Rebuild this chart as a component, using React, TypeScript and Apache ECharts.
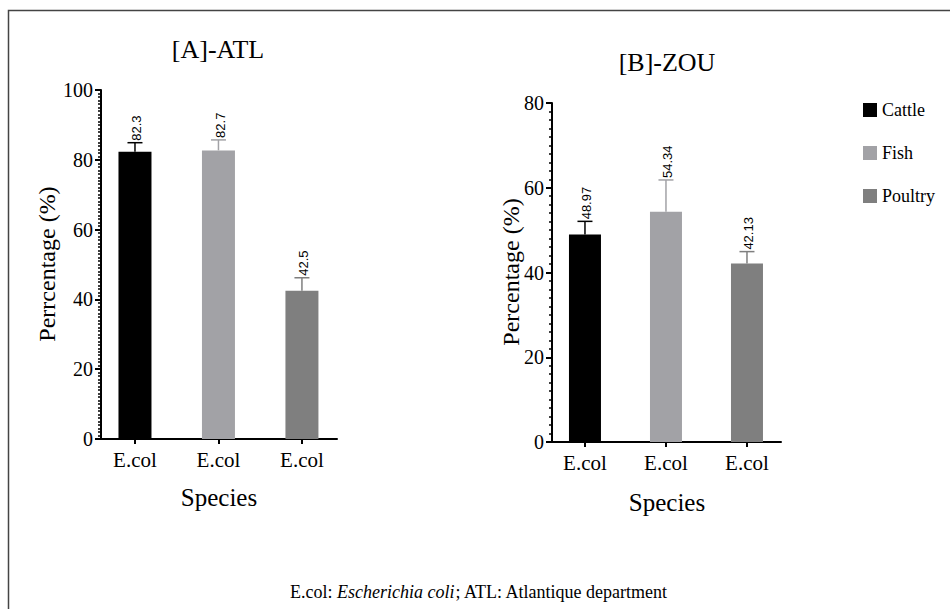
import React, { useEffect, useRef } from "react";
import * as echarts from "echarts";

const categories = ["E.col", "E.col", "E.col"];
const seriesNames = ["Cattle", "Fish", "Poultry"];
const colors = ["#000000", "#a2a2a6", "#7f7f7f"];

const atlValues = [82.3, 82.7, 42.5];
const atlErrors = [2.6, 3.0, 3.7];
const atlLabels = ["82.3", "82.7", "42.5"];

const zouValues = [48.97, 54.34, 42.13];
const zouErrors = [3.1, 7.5, 2.8];
const zouLabels = ["48.97", "54.34", "42.13"];

const atlYTicks = { min: 0, max: 100, interval: 20, minor: 20 };
const zouYTicks = { min: 0, max: 80, interval: 20, minor: 10 };

const SERIF = "Liberation Serif";
const SANS = "Liberation Sans";

function makeErrorSeries(idx: number, values: number[], errors: number[], labels: string[]) {
  return {
    type: "custom",
    xAxisIndex: idx,
    yAxisIndex: idx,
    clip: false,
    silent: true,
    encode: { x: 0, y: 1 },
    data: values.map((v, i) => [i, v, errors[i], i]),
    renderItem: (params: any, api: any) => {
      const x = api.value(0);
      const v = api.value(1);
      const e = api.value(2);
      const ci = api.value(3);
      const lab = labels[params.dataIndex];
      const base = api.coord([x, v]);
      const top = api.coord([x, v + e]);
      const col = colors[ci];
      const half = 7.5;
      return {
        type: "group",
        children: [
          {
            type: "line",
            shape: { x1: base[0], y1: base[1], x2: top[0], y2: top[1] },
            style: { stroke: col, lineWidth: 1.5 },
          },
          {
            type: "line",
            shape: { x1: top[0] - half, y1: top[1], x2: top[0] + half, y2: top[1] },
            style: { stroke: col, lineWidth: 1.5 },
          },
          {
            type: "text",
            x: top[0] + 2,
            y: top[1] - 2,
            rotation: Math.PI / 2,
            style: {
              text: lab,
              fill: "#000",
              font: `13px ${SANS}`,
              align: "left",
              verticalAlign: "middle",
            },
          },
        ],
      };
    },
  };
}

function makeBarSeries(idx: number, values: number[], barWidth: number) {
  return seriesNames.map((name, i) => ({
    name,
    type: "bar",
    xAxisIndex: idx,
    yAxisIndex: idx,
    barWidth,
    barGap: "-100%",
    itemStyle: { color: colors[i] },
    data: [[i, values[i]]],
  }));
}

function makeXAxis(gridIndex: number) {
  return {
    gridIndex,
    type: "value",
    min: -0.407,
    max: 2.42,
    splitLine: { show: false },
    axisLine: { show: true, onZero: false, lineStyle: { color: "#000", width: 2 } },
    axisTick: { show: true, customValues: [0, 1, 2], length: 5, lineStyle: { color: "#000", width: 2 } },
    axisLabel: {
      show: true,
      customValues: [0, 1, 2],
      formatter: (v: number) => categories[Math.round(v)],
      color: "#000",
      fontFamily: SERIF,
      fontSize: 21,
      margin: 10,
    },
  };
}

function makeYAxis(gridIndex: number, t: { min: number; max: number; interval: number; minor: number }) {
  return {
    gridIndex,
    type: "value",
    min: t.min,
    max: t.max,
    interval: t.interval,
    splitLine: { show: false },
    axisLine: { show: true, onZero: false, lineStyle: { color: "#000", width: 2 } },
    axisTick: { show: true, length: 6, lineStyle: { color: "#000", width: 2 } },
    minorTick: { show: true, splitNumber: t.minor, length: 3, lineStyle: { color: "#000", width: 1.5 } },
    minorSplitLine: { show: false },
    axisLabel: { color: "#000", fontFamily: SERIF, fontSize: 20, margin: 8 },
  };
}

export default function App() {
  const ref = useRef<HTMLDivElement>(null);
  useEffect(() => {
    document.body.style.margin = "0";
    if (!ref.current) return;
    const chart = echarts.init(ref.current, undefined, { renderer: "svg" });
    const option: any = {
      animation: false,
      backgroundColor: "#fff",
      textStyle: { fontFamily: SERIF },
      grid: [
        { left: 101, top: 90, width: 236, height: 349 },
        { left: 552, top: 103, width: 229, height: 339 },
      ],
      xAxis: [makeXAxis(0), makeXAxis(1)],
      yAxis: [makeYAxis(0, atlYTicks), makeYAxis(1, zouYTicks)],
      legend: {
        orient: "vertical",
        left: 863,
        top: 101,
        padding: 0,
        itemWidth: 14,
        itemHeight: 14,
        itemGap: 25,
        icon: "rect",
        data: seriesNames,
        textStyle: { fontFamily: SERIF, fontSize: 18, color: "#000" },
      },
      series: [
        ...makeBarSeries(0, atlValues, 33),
        ...makeBarSeries(1, zouValues, 32),
        makeErrorSeries(0, atlValues, atlErrors, atlLabels),
        makeErrorSeries(1, zouValues, zouErrors, zouLabels),
      ],
      graphic: [
        {
          type: "rect",
          shape: { x: 8.5, y: 10.5, width: 1000, height: 700 },
          style: { fill: "none", stroke: "#444", lineWidth: 1.5 },
          silent: true,
        },
        {
          type: "text",
          x: 218,
          y: 49,
          style: { text: "[A]-ATL", font: `26px ${SERIF}`, fill: "#000", align: "center", verticalAlign: "middle" },
        },
        {
          type: "text",
          x: 667,
          y: 62,
          style: { text: "[B]-ZOU", font: `26px ${SERIF}`, fill: "#000", align: "center", verticalAlign: "middle" },
        },
        {
          type: "text",
          x: 47,
          y: 264,
          rotation: Math.PI / 2,
          style: { text: "Perrcentage (%)", font: `24px ${SERIF}`, fill: "#000", align: "center", verticalAlign: "middle" },
        },
        {
          type: "text",
          x: 511,
          y: 272,
          rotation: Math.PI / 2,
          style: { text: "Percentage (%)", font: `24px ${SERIF}`, fill: "#000", align: "center", verticalAlign: "middle" },
        },
        {
          type: "text",
          x: 219,
          y: 497,
          style: { text: "Species", font: `25px ${SERIF}`, fill: "#000", align: "center", verticalAlign: "middle" },
        },
        {
          type: "text",
          x: 667,
          y: 502,
          style: { text: "Species", font: `25px ${SERIF}`, fill: "#000", align: "center", verticalAlign: "middle" },
        },
        {
          type: "text",
          x: 479,
          y: 592,
          style: {
            text: "{n|E.col: }{i|Escherichia coli}{n|; ATL: Atlantique department}",
            align: "center",
            verticalAlign: "middle",
            rich: {
              n: { fontFamily: SERIF, fontSize: 18, fill: "#000", color: "#000" },
              i: { fontFamily: SERIF, fontSize: 18, fontStyle: "italic", fill: "#000", color: "#000" },
            },
          },
        },
      ],
    };
    chart.setOption(option);
    return () => chart.dispose();
  }, []);
  return <div ref={ref} style={{ width: 950, height: 609 }} />;
}
